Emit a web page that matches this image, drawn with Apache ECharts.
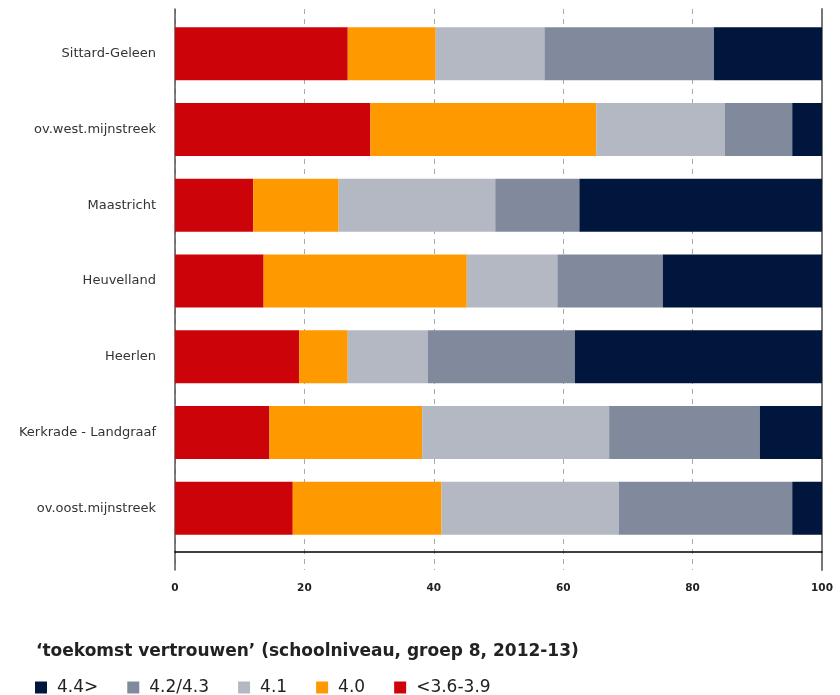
<!DOCTYPE html>
<html>
<head>
<meta charset="utf-8">
<script src="https://cdn.jsdelivr.net/npm/echarts@6/dist/echarts.min.js"></script>
<style>html,body{margin:0;padding:0;background:#fff}#c{width:840px;height:695px}</style>
</head>
<body>
<div id="c"></div>
<script>
const categories = ['Sittard-Geleen','ov.west.mijnstreek','Maastricht','Heuvelland','Heerlen','Kerkrade - Landgraaf','ov.oost.mijnstreek'];
const seriesNames = ['<3.6-3.9','4.0','4.1','4.2/4.3','4.4>'];
const lowValues   = [26.7, 30.2, 12.1, 13.7, 19.2, 14.6, 18.2];
const v40Values   = [13.6, 34.9, 13.2, 31.4,  7.5, 23.6, 23.0];
const v41Values   = [16.8, 19.9, 24.2, 14.0, 12.4, 28.9, 27.4];
const v4243Values = [26.2, 10.4, 13.0, 16.3, 22.7, 23.3, 26.8];
const v44Values   = [16.7,  4.6, 37.5, 24.6, 38.2,  9.6,  4.6];
const xTicks = [0, 20, 40, 60, 80, 100];
const legendOrder = ['4.4>','4.2/4.3','4.1','4.0','<3.6-3.9'];
const titleText = '\u2018toekomst vertrouwen\u2019 (schoolniveau, groep 8, 2012-13)';

const colors = ['#CC0309','#FF9900','#B3B8C3','#808A9C','#00163D'];
const allValues = [lowValues, v40Values, v41Values, v4243Values, v44Values];

const chart = echarts.init(document.getElementById('c'), null, {renderer:'canvas'});
const font = 'DejaVu Sans, Verdana, sans-serif';
chart.setOption({
  animation: false,
  backgroundColor: '#fff',
  title: {
    text: titleText, left: 31, top: 638,
    textStyle: {fontFamily: font, fontSize: 17, fontWeight: 'bold', color: '#222'}
  },
  legend: {
    data: legendOrder, left: 30, top: 674, itemWidth: 12, itemHeight: 12, itemGap: 29,
    icon: 'rect',
    textStyle: {fontFamily: font, fontSize: 17, color: '#222', padding: [0, 0, 0, 5]}
  },
  grid: [
    {left: 175, right: 18, top: 16, height: 530},
    {left: 175, right: 18, top: 9, bottom: 125}
  ],
  xAxis: [
    {gridIndex: 0, type: 'value', min: 0, max: 100, interval: 20,
     axisLine: {show: false}, axisTick: {show: false}, axisLabel: {show: false}, splitLine: {show: false}},
    {gridIndex: 1, type: 'value', min: 0, max: 100, interval: 20, position: 'bottom', offset: -18,
     axisLine: {show: true, lineStyle: {color: '#000', width: 1.5}}, axisTick: {show: false},
     axisLabel: {margin: 31, fontFamily: font, fontSize: 10.5, fontWeight: 'bold', color: '#222',
       formatter: v => xTicks.includes(v) ? String(v) : ''},
     splitLine: {show: true, lineStyle: {color: '#aaa', type: [5, 5], width: 1}}}
  ],
  yAxis: [
    {gridIndex: 0, type: 'category', data: categories, inverse: true,
     axisLine: {show: false}, axisTick: {show: false},
     axisLabel: {margin: 19, fontFamily: font, fontSize: 13, color: '#333'}},
    {gridIndex: 1, type: 'value', position: 'left', min: 0, max: 1,
     axisLine: {show: true, lineStyle: {color: '#555', width: 1.5}}, axisTick: {show: false},
     axisLabel: {show: false}, splitLine: {show: false}},
    {gridIndex: 1, type: 'value', position: 'right', min: 0, max: 1,
     axisLine: {show: true, lineStyle: {color: '#777', width: 2}}, axisTick: {show: false},
     axisLabel: {show: false}, splitLine: {show: false}}
  ],
  series: seriesNames.map((n, i) => ({
    name: n, type: 'bar', stack: 'all', xAxisIndex: 0, yAxisIndex: 0,
    barWidth: 53, data: allValues[i], itemStyle: {color: colors[i]}
  }))
});
</script>
</body>
</html>
